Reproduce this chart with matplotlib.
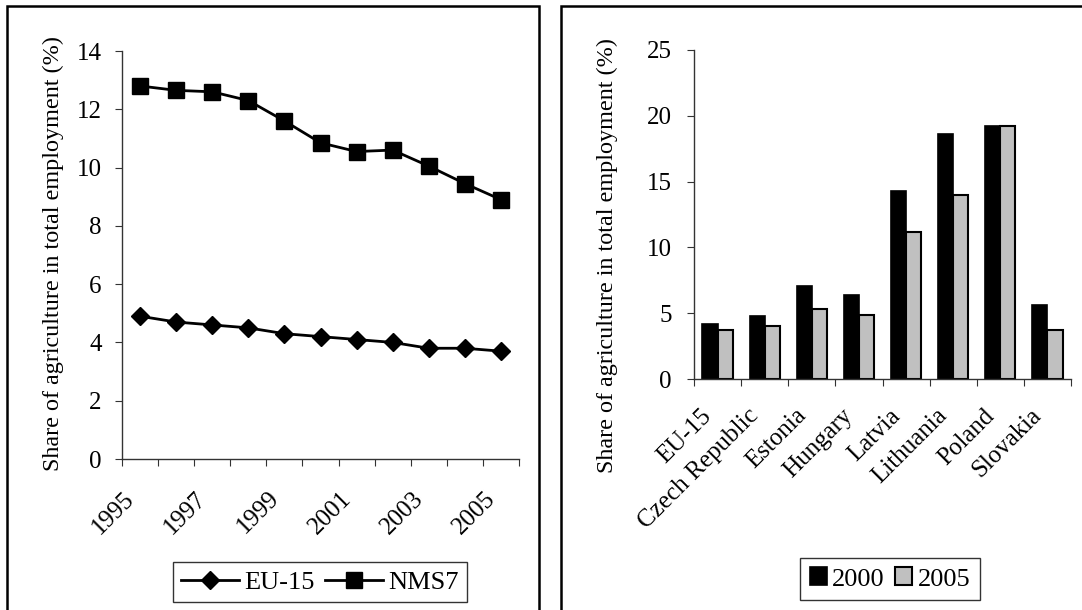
import matplotlib
matplotlib.use("Agg")
import matplotlib.pyplot as plt
from matplotlib.patches import Rectangle

plt.rcParams['font.family'] = ['Liberation Serif', 'DejaVu Serif']

# ---- data ----
years = [1995, 1996, 1997, 1998, 1999, 2000, 2001, 2002, 2003, 2004, 2005]
eu15 = [4.9, 4.7, 4.6, 4.5, 4.3, 4.2, 4.1, 4.0, 3.8, 3.8, 3.7]
nms7 = [12.8, 12.65, 12.6, 12.3, 11.6, 10.85, 10.55, 10.6, 10.05, 9.45, 8.9]

countries = ["EU-15", "Czech Republic", "Estonia", "Hungary", "Latvia",
             "Lithuania", "Poland", "Slovakia"]
share_2000 = [4.2, 4.8, 7.1, 6.4, 14.3, 18.6, 19.2, 5.6]
share_2005 = [3.7, 4.0, 5.3, 4.9, 11.2, 14.0, 19.2, 3.7]

ylabel = "Share of agriculture in total employment (%)"
TICK_FS = 18
XLAB_FS = 18
LAB_FS = 17.4
LEG_FS = 19
W, H = 1082, 610

fig = plt.figure(figsize=(W / 100, H / 100), dpi=100)


def fx(px):
    return px / W


def fy(py):
    return 1 - py / H


# panel borders
fig.add_artist(Rectangle((fx(7), fy(640)), fx(539 - 7), (640 - 6) / H,
                         transform=fig.transFigure, fill=False, lw=1.8, ec='black'))
fig.add_artist(Rectangle((fx(561), fy(640)), fx(1120 - 561), (640 - 6) / H,
                         transform=fig.transFigure, fill=False, lw=1.8, ec='black'))

spine_c = '#333333'


def style_axes(ax, pad, ypad):
    ax.tick_params(axis='x', which='minor', length=0, pad=pad)
    ax.tick_params(axis='x', which='major', length=5, direction='out', color=spine_c)
    ax.tick_params(axis='y', length=5, direction='out', color=spine_c,
                   labelsize=TICK_FS, pad=ypad)
    for s in ['top', 'right']:
        ax.spines[s].set_visible(False)
    for s in ['left', 'bottom']:
        ax.spines[s].set_color(spine_c)
        ax.spines[s].set_linewidth(1.0)


# ---- left: line chart ----
ax1 = fig.add_axes([fx(122), fy(459), fx(519 - 122), (459 - 51) / H])
x = list(range(len(years)))
ax1.plot(x, eu15, color='black', lw=2, marker='D', ms=9.5, label='EU-15')
ax1.plot(x, nms7, color='black', lw=2, marker='s', ms=11, label='NMS7')
ax1.set_xlim(-0.5, len(years) - 0.5)
ax1.set_ylim(0, 14)
ax1.set_yticks(range(0, 15, 2))
ax1.set_xticks([i - 0.5 for i in range(len(years) + 1)])
ax1.set_xticklabels([])
ax1.set_xticks([i - 0.25 for i in x[::2]], minor=True)
ax1.set_xticklabels([str(y) for y in years[::2]], minor=True, rotation=45,
                    ha='right', va='center', rotation_mode='anchor', fontsize=XLAB_FS)
style_axes(ax1, 26, 9.5)
ax1.set_ylabel(ylabel, fontsize=LAB_FS)
ax1.yaxis.set_label_coords(fx(64), fy(254), transform=fig.transFigure)
leg1 = ax1.legend(loc='center', bbox_to_anchor=(fx(320), fy(582)),
                  bbox_transform=fig.transFigure, ncol=2, frameon=True,
                  fancybox=False, edgecolor='black', fontsize=LEG_FS,
                  handlelength=2.2, columnspacing=0.4, handletextpad=0.2,
                  borderpad=0.3, borderaxespad=0)
leg1.get_frame().set_linewidth(1.0)

# ---- right: bar chart ----
ax2 = fig.add_axes([fx(694), fy(379), fx(1071 - 694), (379 - 50) / H])
xc = list(range(len(countries)))
bw = 0.32
ax2.bar([i - bw / 2 for i in xc], share_2000, width=bw, color='black',
        edgecolor='black', lw=1.2, label='2000')
ax2.bar([i + bw / 2 for i in xc], share_2005, width=bw, color='#c0c0c0',
        edgecolor='black', lw=1.5, label='2005')
ax2.set_xlim(-0.5, len(countries) - 0.5)
ax2.set_ylim(0, 25)
ax2.set_yticks(range(0, 26, 5))
ax2.set_xticks([i - 0.5 for i in range(len(countries) + 1)])
ax2.set_xticklabels([])
ax2.set_xticks([i - 0.2 for i in xc], minor=True)
ax2.set_xticklabels(countries, minor=True, rotation=45, ha='right', va='center',
                    rotation_mode='anchor', fontsize=XLAB_FS)
style_axes(ax2, 24, 11)
ax2.set_ylabel(ylabel, fontsize=LAB_FS)
ax2.yaxis.set_label_coords(fx(618), fy(256), transform=fig.transFigure)
leg2 = ax2.legend(loc='center', bbox_to_anchor=(fx(890), fy(579)),
                  bbox_transform=fig.transFigure, ncol=2, frameon=True,
                  fancybox=False, edgecolor='black', fontsize=LEG_FS,
                  handlelength=0.65, handleheight=0.65, columnspacing=0.4,
                  handletextpad=0.2, borderpad=0.35, borderaxespad=0)
leg2.get_frame().set_linewidth(1.0)

fig.savefig("out.png", dpi=100)
